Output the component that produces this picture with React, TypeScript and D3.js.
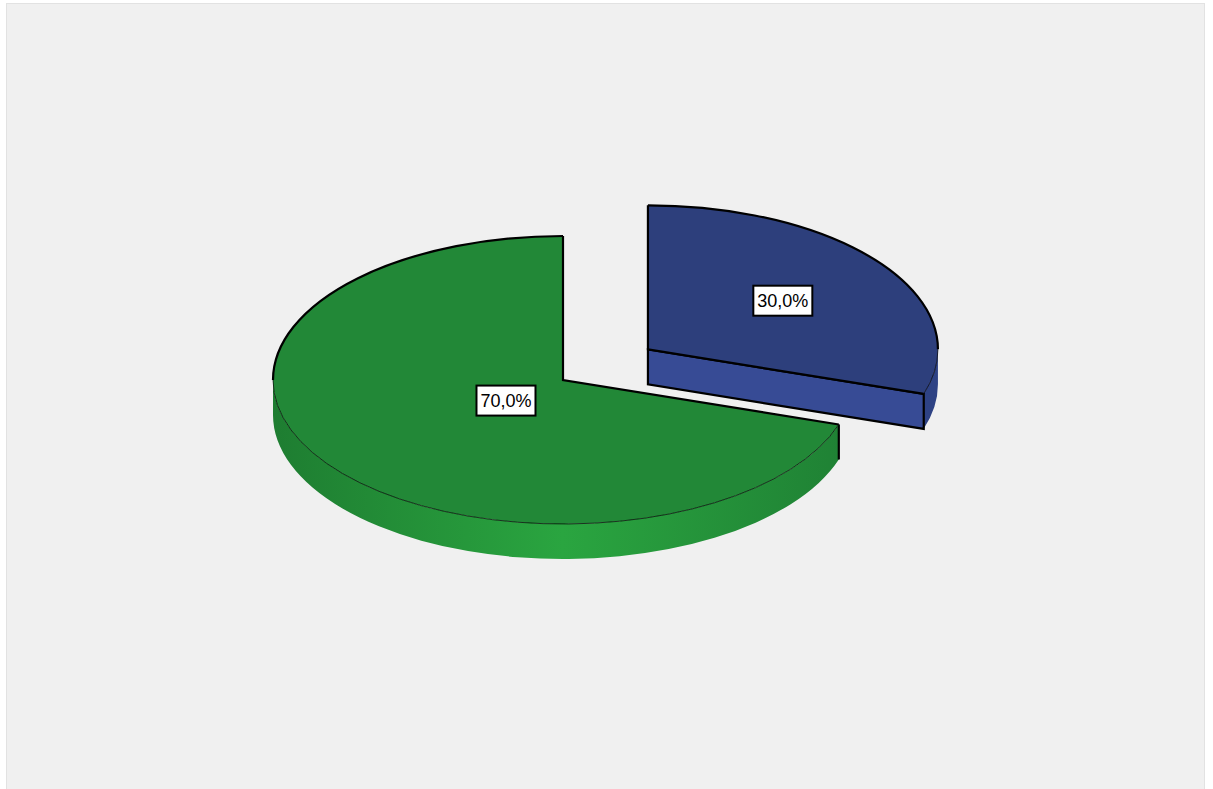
import React from "react";
import * as d3 from "d3";

const categories = ["Catégorie B", "Catégorie A"];
const values = [30, 70];
const sliceTopColors = ["#2d3f7c", "#228837"];
const sliceCutColors = ["#374b95", "#228837"];
const labelFractions = [0.575, 0.243];

const W = 1213;
const H = 789;
const CX = 563;
const CY = 380;
const RX = 290;
const RY = 144;
const DEPTH = 35;
const EXPLODE = [0.362, 0];

const fmt = (v: number) => d3.format(".1f")(v).replace(".", ",") + "%";

function pt(cx: number, cy: number, a: number, r = 1): [number, number] {
  return [cx + RX * r * Math.sin(a), cy - RY * r * Math.cos(a)];
}

function arcPath(cx: number, cy: number, a0: number, a1: number, dy = 0, reverse = false) {
  const p0 = pt(cx, cy + dy, a0);
  const p1 = pt(cx, cy + dy, a1);
  const large = Math.abs(a1 - a0) > Math.PI ? 1 : 0;
  if (!reverse) return `M${p0[0]},${p0[1]} A${RX},${RY} 0 ${large} 1 ${p1[0]},${p1[1]}`;
  return `M${p1[0]},${p1[1]} A${RX},${RY} 0 ${large} 0 ${p0[0]},${p0[1]}`;
}

export default function App() {
  const total = d3.sum(values);
  const pie = d3.pie<number>().sort(null)(values);

  const slices = pie.map((d, i) => {
    const mid = (d.startAngle + d.endAngle) / 2;
    const e = EXPLODE[i];
    const cx = CX + RX * e * Math.sin(mid);
    const cy = CY - RY * e * Math.cos(mid);
    return { d, i, mid, cx, cy };
  });

  const elems: React.ReactNode[] = [];

  slices.forEach(({ d, i, mid, cx, cy }) => {
    const a0 = d.startAngle;
    const a1 = d.endAngle;
    // visible front wall range
    const w0 = Math.max(a0, Math.PI / 2);
    const w1 = Math.min(a1, (3 * Math.PI) / 2);
    if (w1 > w0) {
      const p0 = pt(cx, cy, w0);
      const p1 = pt(cx, cy, w1);
      const q1 = pt(cx, cy + DEPTH, w1);
      const q0 = pt(cx, cy + DEPTH, w0);
      const large = w1 - w0 > Math.PI ? 1 : 0;
      const path = `M${p0[0]},${p0[1]} A${RX},${RY} 0 ${large} 1 ${p1[0]},${p1[1]} L${q1[0]},${q1[1]} A${RX},${RY} 0 ${large} 0 ${q0[0]},${q0[1]} Z`;
      elems.push(
        <path key={`wall${i}`} d={path} fill={i === 1 ? "url(#greenSide)" : "#2e4284"} stroke="none" />
      );
      // end edge of wall at slice end (if visible)
      if (i === 1 && a0 > Math.PI / 2) {
        const s = pt(cx, cy, a0);
        elems.push(
          <line key={`edge${i}`} x1={s[0]} y1={s[1]} x2={s[0]} y2={s[1] + DEPTH} stroke="#000" strokeWidth={2.2} />
        );
      }
    }
    // cut face at end angle a1 if it faces the viewer (end within (0, PI))
    if (a1 > 0.05 && a1 < Math.PI) {
      const e = pt(cx, cy, a1);
      const path = `M${cx},${cy} L${e[0]},${e[1]} L${e[0]},${e[1] + DEPTH} L${cx},${cy + DEPTH} Z`;
      elems.push(
        <path key={`cut${i}`} d={path} fill={sliceCutColors[i]} stroke="#000" strokeWidth={2.2} strokeLinejoin="miter" />
      );
    }
    // top face
    const s = pt(cx, cy, a0);
    const t = pt(cx, cy, a1);
    const large = a1 - a0 > Math.PI ? 1 : 0;
    const top = `M${cx},${cy} L${s[0]},${s[1]} A${RX},${RY} 0 ${large} 1 ${t[0]},${t[1]} Z`;
    elems.push(<path key={`top${i}`} d={top} fill={sliceTopColors[i]} stroke="none" />);
    // outline: back arcs thick, front arcs thin
    const segs: [number, number, boolean][] = [];
    const bounds = [0, Math.PI / 2, (3 * Math.PI) / 2, 2 * Math.PI];
    for (let k = 0; k < 3; k++) {
      const lo = Math.max(a0, bounds[k]);
      const hi = Math.min(a1, bounds[k + 1]);
      if (hi > lo + 1e-6) segs.push([lo, hi, k !== 1]);
    }
    segs.forEach(([lo, hi, thick], k) => {
      elems.push(
        <path
          key={`arc${i}_${k}`}
          d={arcPath(cx, cy, lo, hi)}
          fill="none"
          stroke="#000"
          strokeWidth={thick ? 2.2 : 0.7}
        />
      );
    });
    elems.push(
      <path
        key={`rad${i}`}
        d={`M${s[0]},${s[1]} L${cx},${cy} L${t[0]},${t[1]}`}
        fill="none"
        stroke="#000"
        strokeWidth={2.2}
        strokeLinejoin="miter"
      />
    );
  });

  // labels
  slices.forEach(({ d, i, mid, cx, cy }) => {
    const [lx, ly] = pt(cx, cy, mid, labelFractions[i]);
    const text = fmt((d.data / total) * 100);
    const bw = 59;
    const bh = 30;
    elems.push(
      <g key={`lab${i}`}>
        <rect x={lx - bw / 2} y={ly - bh / 2} width={bw} height={bh} fill="#fff" stroke="#000" strokeWidth={2} />
        <text
          x={lx}
          y={ly}
          textAnchor="middle"
          dominantBaseline="central"
          fontFamily="'Liberation Sans', Arial, sans-serif"
          fontSize={18}
          fill="#000"
        >
          {text}
        </text>
      </g>
    );
  });

  return (
    <div style={{ position: "fixed", left: 0, top: 0 }}>
      <svg width={W} height={H} style={{ display: "block" }}>
        <defs>
          <linearGradient id="greenSide" gradientUnits="userSpaceOnUse" x1={CX - RX} y1={0} x2={CX + RX} y2={0}>
            <stop offset="0%" stopColor="#1e7d31" />
            <stop offset="50%" stopColor="#2aa540" />
            <stop offset="100%" stopColor="#1f8034" />
          </linearGradient>
        </defs>
        <rect x={6.5} y={3.5} width={1198} height={790} fill="#f0f0f0" stroke="#e2e2e2" strokeWidth={1} />
        {elems}
      </svg>
    </div>
  );
}
